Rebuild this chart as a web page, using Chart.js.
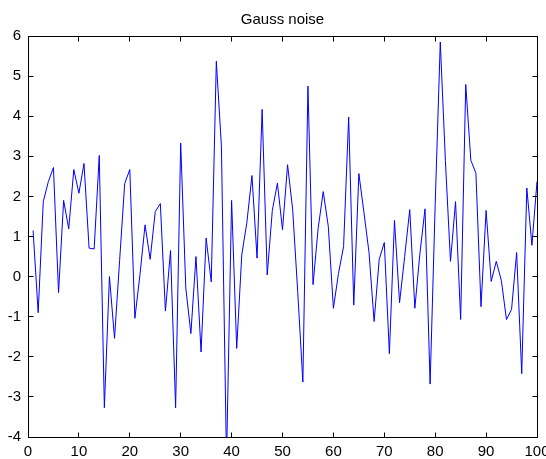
<!DOCTYPE html>
<html><head><meta charset="utf-8">
<script src="https://cdn.jsdelivr.net/npm/chart.js@4.4.1/dist/chart.umd.min.js"></script>
<style>html,body{margin:0;padding:0;background:#fff;} canvas{display:block;}</style>
</head><body>
<canvas id="c" width="546" height="459"></canvas>
<script>
const titleText = "Gauss noise";
const xTicks = [0, 10, 20, 30, 40, 50, 60, 70, 80, 90, 100];
const yTicks = [-4, -3, -2, -1, 0, 1, 2, 3, 4, 5, 6];
const sampleIndex = [
  1, 2, 3, 4, 5, 6, 7, 8, 9, 10,
  11, 12, 13, 14, 15, 16, 17, 18, 19, 20,
  21, 22, 23, 24, 25, 26, 27, 28, 29, 30,
  31, 32, 33, 34, 35, 36, 37, 38, 39, 40,
  41, 42, 43, 44, 45, 46, 47, 48, 49, 50,
  51, 52, 53, 54, 55, 56, 57, 58, 59, 60,
  61, 62, 63, 64, 65, 66, 67, 68, 69, 70,
  71, 72, 73, 74, 75, 76, 77, 78, 79, 80,
  81, 82, 83, 84, 85, 86, 87, 88, 89, 90,
  91, 92, 93, 94, 95, 96, 97, 98, 99, 100
];
const noiseValues = [
  1.15, -0.9, 1.87, 2.37, 2.72, -0.4, 1.9, 1.19, 2.67, 2.08,
  2.82, 0.71, 0.69, 3.02, -3.27, 0.0, -1.54, 0.4, 2.32, 2.67,
  -1.04, 0.05, 1.29, 0.43, 1.62, 1.82, -0.86, 0.65, -3.27, 3.33,
  -0.28, -1.42, 0.5, -1.88, 0.96, -0.13, 5.37, 3.25, -4.6, 1.9,
  -1.79, 0.54, 1.35, 2.52, 0.46, 4.17, 0.04, 1.65, 2.33, 1.17,
  2.79, 1.67, -0.4, -2.63, 4.75, -0.2, 1.2, 2.12, 1.25, -0.79,
  0.08, 0.75, 3.98, -0.71, 2.57, 1.6, 0.6, -1.12, 0.43, 0.85,
  -1.92, 1.4, -0.65, 0.5, 1.67, -0.79, 0.58, 1.69, -2.68, 1.8,
  5.85, 2.9, 0.38, 1.87, -1.07, 4.79, 2.9, 2.58, -0.75, 1.65,
  -0.12, 0.38, -0.1, -1.07, -0.82, 0.6, -2.42, 2.21, 0.78, 2.37
];

const FONT = "'Liberation Sans', Arial, Helvetica, sans-serif";

const matlabAxes = {
  id: 'matlabAxes',
  beforeDraw(chart) {
    const ctx = chart.ctx;
    ctx.save();
    ctx.fillStyle = '#fff';
    ctx.fillRect(0, 0, chart.width, chart.height);
    ctx.restore();
  },
  afterDraw(chart) {
    const {ctx, chartArea: a, scales} = chart;
    const sx = scales.x, sy = scales.y;
    const L = Math.floor(a.left) + 0.5, R = Math.floor(a.right) + 0.5;
    const T = Math.floor(a.top) + 0.5, B = Math.floor(a.bottom) + 0.5;
    const tl = 5;
    ctx.save();
    ctx.strokeStyle = '#000';
    ctx.lineWidth = 1;
    ctx.beginPath();
    ctx.rect(L, T, R - L, B - T);
    ctx.stroke();
    ctx.beginPath();
    xTicks.forEach(v => {
      const px = Math.floor(sx.getPixelForValue(v)) + 0.5;
      ctx.moveTo(px, B); ctx.lineTo(px, B - tl);
      ctx.moveTo(px, T); ctx.lineTo(px, T + tl);
    });
    yTicks.forEach(v => {
      const py = Math.floor(sy.getPixelForValue(v)) + 0.5;
      ctx.moveTo(L, py); ctx.lineTo(L + tl, py);
      ctx.moveTo(R, py); ctx.lineTo(R - tl, py);
    });
    ctx.stroke();
    ctx.restore();
  }
};

new Chart(document.getElementById('c'), {
  type: 'line',
  data: {
    datasets: [{
      data: sampleIndex.map((x, i) => ({x: x, y: noiseValues[i]})),
      borderColor: '#0000ff',
      borderWidth: 1,
      pointRadius: 0,
      pointHoverRadius: 0,
      tension: 0,
      fill: false
    }]
  },
  options: {
    responsive: false,
    animation: false,
    events: [],
    layout: {padding: {left: 0, right: 9, top: 0, bottom: 0}},
    plugins: {
      legend: {display: false},
      tooltip: {enabled: false},
      title: {
        display: true,
        fullSize: false,
        text: titleText,
        color: '#000',
        font: {family: FONT, size: 15, weight: 'normal'},
        padding: {top: 11, bottom: 7}
      }
    },
    scales: {
      x: {
        type: 'linear',
        min: 0, max: 100,
        grid: {display: false, drawTicks: false},
        border: {display: false},
        ticks: {color: '#000', font: {family: FONT, size: 15}, padding: 5.5, maxRotation: 0, autoSkip: false},
        afterBuildTicks: s => { s.ticks = xTicks.map(v => ({value: v})); },
        afterFit: s => { s.height = 22; s.paddingLeft = 0; s.paddingRight = 0; }
      },
      y: {
        type: 'linear',
        min: -4, max: 6,
        grid: {display: false, drawTicks: false},
        border: {display: false},
        ticks: {color: '#000', font: {family: FONT, size: 15}, padding: 7, autoSkip: false},
        afterBuildTicks: s => { s.ticks = yTicks.map(v => ({value: v})); },
        afterFit: s => { s.width = 28; s.paddingTop = 0; s.paddingBottom = 0; }
      }
    }
  },
  plugins: [matlabAxes]
});
</script>
</body></html>
